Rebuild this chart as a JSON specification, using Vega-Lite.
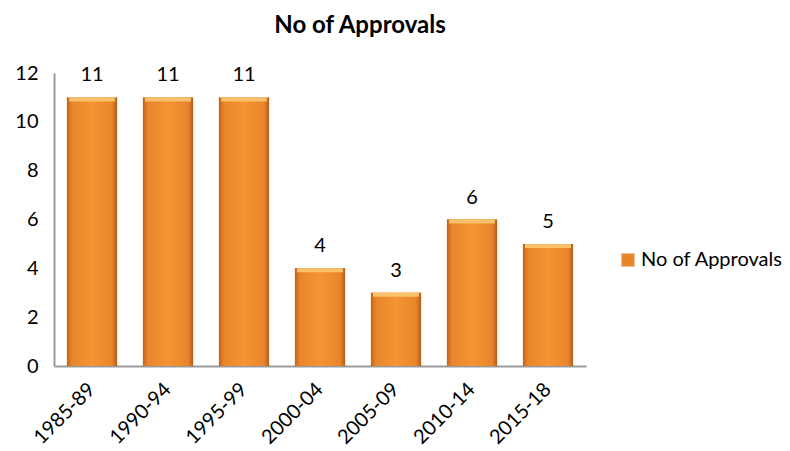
{
  "$schema": "https://vega.github.io/schema/vega-lite/v6.json",
  "width": 532,
  "height": 293,
  "autosize": {"type": "none"},
  "padding": {"left": 54, "top": 73, "right": 204, "bottom": 85},
  "background": "white",
  "title": {"text": "No of Approvals", "font": "Lato", "fontSize": 24, "fontWeight": "bold", "color": "#000000", "anchor": "middle", "dx": 40, "offset": 25},
  "data": {"values": [
    {"period": "1985-89", "approvals": 11, "series": "No of Approvals"},
    {"period": "1990-94", "approvals": 11, "series": "No of Approvals"},
    {"period": "1995-99", "approvals": 11, "series": "No of Approvals"},
    {"period": "2000-04", "approvals": 4, "series": "No of Approvals"},
    {"period": "2005-09", "approvals": 3, "series": "No of Approvals"},
    {"period": "2010-14", "approvals": 6, "series": "No of Approvals"},
    {"period": "2015-18", "approvals": 5, "series": "No of Approvals"}
  ]},
  "config": {
    "view": {"stroke": null},
    "font": "Lato"
  },
  "encoding": {
    "x": {"field": "period", "type": "nominal", "sort": null,
      "scale": {"paddingInner": 0.34, "paddingOuter": 0.17},
      "axis": {"title": null, "labelAngle": -45, "labelAlign": "right", "labelBaseline": "middle", "labelFontSize": 20, "labelColor": "#000000", "labelPadding": 20, "ticks": false, "domainColor": "#9a9a9a", "domainWidth": 2, "labelFont": "Lato"}},
    "y": {"field": "approvals", "type": "quantitative",
      "scale": {"domain": [0, 12]},
      "axis": {"title": null, "values": [0, 2, 4, 6, 8, 10, 12], "grid": false, "ticks": false, "labelFontSize": 20, "labelColor": "#000000", "labelPadding": 16, "domainColor": "#9a9a9a", "domainWidth": 2, "labelFont": "Lato"}}
  },
  "layer": [
    {
      "mark": {"type": "bar"},
      "encoding": {
        "fill": {"field": "series", "type": "nominal",
          "scale": {"range": ["#e8852b"]},
          "legend": {"title": null, "orient": "none", "legendX": 564, "legendY": 177, "symbolType": "square", "symbolSize": 170, "labelFontSize": 20, "labelColor": "#000000", "labelFont": "Lato", "symbolStrokeWidth": 0, "labelOffset": 3, "symbolOpacity": 1}}
      }
    },
    {
      "mark": {"type": "bar", "color": {"gradient": "linear", "x1": 0, "y1": 0, "x2": 1, "y2": 0, "stops": [
        {"offset": 0, "color": "#c0641c"},
        {"offset": 0.1, "color": "#e8852b"},
        {"offset": 0.5, "color": "#f59433"},
        {"offset": 0.9, "color": "#e8852b"},
        {"offset": 1, "color": "#b45c19"}
      ]}}
    },
    {
      "mark": {"type": "tick", "color": "#f9c46f", "thickness": 4, "size": 46, "yOffset": 2, "opacity": 0.95}
    },
    {
      "mark": {"type": "text", "baseline": "bottom", "dy": -12, "fontSize": 20, "color": "#000000", "font": "Lato"},
      "encoding": {"text": {"field": "approvals", "type": "quantitative"}}
    }
  ]
}
